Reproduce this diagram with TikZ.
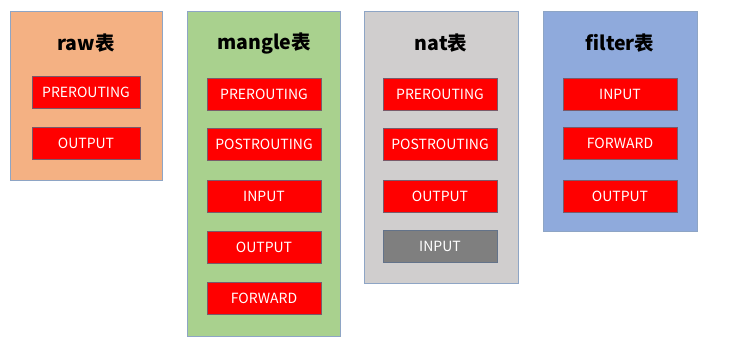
\documentclass[tikz,border=0pt]{standalone}
\usepackage{fontspec}
\setmainfont{Noto Sans CJK SC}
\begin{document}
\begin{tikzpicture}[x=1pt,y=-1pt]
\definecolor{rawc}{HTML}{F4B183}
\definecolor{manc}{HTML}{A9D18E}
\definecolor{natc}{HTML}{D0CECE}
\definecolor{filc}{HTML}{8FAADC}
\definecolor{gray6}{HTML}{7F7F7F}
\definecolor{edgec}{HTML}{8EA5C5}
\definecolor{chainedge}{HTML}{7A5A6A}
\tikzset{
  tablebox/.style={draw=edgec, line width=0.8pt, fill=#1, anchor=north west, inner sep=0pt},
  chainbox/.style={draw=chainedge, line width=0.6pt, fill=red, text=white, minimum height=32pt, inner sep=0pt, font=\fontsize{14}{16}\selectfont},
  graybox/.style={chainbox, fill=gray6, draw=edgec!70!black},
  tabletitle/.style={font=\fontsize{19.5}{22}\selectfont\bfseries, text=black}}
\fill[white] (0,0) rectangle (729,357);
\useasboundingbox (0,0) rectangle (729,357);
% table boxes
\node[tablebox=rawc, minimum width=152pt, minimum height=169pt] (raw) at (10,11) {};
\node[tablebox=manc, minimum width=153pt, minimum height=325pt] (mangle) at (187,11) {};
\node[tablebox=natc, minimum width=154pt, minimum height=272pt] (nat) at (364,11) {};
\node[tablebox=filc, minimum width=154pt, minimum height=220pt] (filter) at (543,11) {};
% titles
\node[tabletitle] (rawt) at (86,43) {raw表};
\node[tabletitle] (mant) at (264,43) {mangle表};
\node[tabletitle] (natt) at (441,43) {nat表};
\node[tabletitle] (filt) at (620,43) {filter表};
% raw chains
\node[chainbox, minimum width=108pt] (r1) at (86,92) {PREROUTING};
\node[chainbox, minimum width=108pt] (r2) at (86,143) {OUTPUT};
% mangle chains
\node[chainbox, minimum width=114pt] (m1) at (264,94) {PREROUTING};
\node[chainbox, minimum width=114pt] (m2) at (264,144) {POSTROUTING};
\node[chainbox, minimum width=114pt] (m3) at (264,196) {INPUT};
\node[chainbox, minimum width=114pt] (m4) at (264,247) {OUTPUT};
\node[chainbox, minimum width=114pt] (m5) at (264,298) {FORWARD};
% nat chains
\node[chainbox, minimum width=114pt] (n1) at (440,94) {PREROUTING};
\node[chainbox, minimum width=114pt] (n2) at (440,144) {POSTROUTING};
\node[chainbox, minimum width=114pt] (n3) at (440,196) {OUTPUT};
\node[graybox, minimum width=114pt] (n4) at (440,246) {INPUT};
% filter chains
\node[chainbox, minimum width=114pt] (f1) at (620,94) {INPUT};
\node[chainbox, minimum width=114pt] (f2) at (620,143) {FORWARD};
\node[chainbox, minimum width=114pt] (f3) at (620,196) {OUTPUT};
\end{tikzpicture}
\end{document}
